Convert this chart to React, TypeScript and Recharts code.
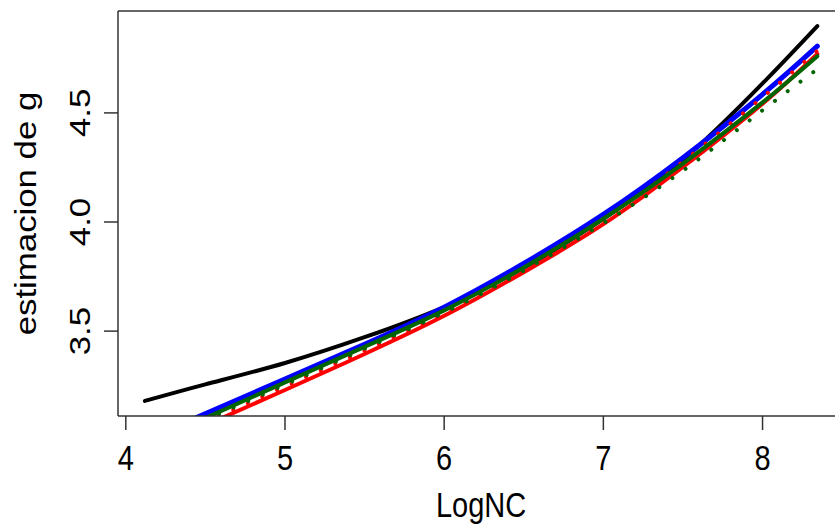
import { LineChart, Line, XAxis, YAxis, ReferenceLine } from "recharts";

// axis setup
const X_TICKS = [4, 5, 6, 7, 8];
const Y_TICKS = [3.5, 4.0, 4.5];
const X_DOMAIN: [number, number] = [3.951, 8.513];
const Y_DOMAIN: [number, number] = [3.111, 4.967];

// black curve has its own x samples
const blackX = [4.12, 4.5, 5, 5.5, 6, 6.5, 7, 7.5, 8, 8.344];
const blackY = [3.18, 3.256, 3.354, 3.472, 3.61, 3.79, 4.015, 4.285, 4.635, 4.898];

// the coloured curves share these x samples
const curveX = [4.4, 5, 5.5, 6, 6.5, 7, 7.5, 8, 8.344];
const blueY = [3.09, 3.28, 3.44, 3.61, 3.81, 4.035, 4.295, 4.585, 4.806];
const redY = [3.036, 3.23, 3.395, 3.57, 3.77, 3.99, 4.252, 4.542, 4.77];
const redDotY = [3.047, 3.247, 3.41, 3.583, 3.785, 4.01, 4.277, 4.572, 4.785];
const greenY = [3.069, 3.265, 3.428, 3.595, 3.792, 4.015, 4.268, 4.548, 4.76];
const greenDotY = [3.062, 3.255, 3.42, 3.585, 3.777, 3.994, 4.235, 4.512, 4.7];

const toPoints = (xs: number[], ys: number[]) => xs.map((x, i) => ({ x, y: ys[i] }));

const SERIES = [
  { name: "black", data: toPoints(blackX, blackY), color: "#000000", width: 4, dash: undefined },
  { name: "blue", data: toPoints(curveX, blueY), color: "#0000ff", width: 5, dash: undefined },
  { name: "red", data: toPoints(curveX, redY), color: "#ff0000", width: 4, dash: undefined },
  { name: "redDot", data: toPoints(curveX, redDotY), color: "#ff0000", width: 4, dash: "0.01 16" },
  { name: "green", data: toPoints(curveX, greenY), color: "#006400", width: 4, dash: undefined },
  { name: "greenDot", data: toPoints(curveX, greenDotY), color: "#006400", width: 4, dash: "0.01 16" },
];

const FONT = "'Liberation Sans', Arial, Helvetica, sans-serif";
const FONT_SIZE = 29;
const STRETCH = 1.2;
const AXIS_COLOR = "#333333";

function XTick(props: any) {
  const { x, y, payload } = props;
  return (
    <text
      transform={`translate(${x},${y + 38}) scale(1,${STRETCH})`}
      textAnchor="middle"
      fontSize={FONT_SIZE}
      fontFamily={FONT}
      fill="#000"
    >
      {payload.value}
    </text>
  );
}

function YTick(props: any) {
  const { x, y, payload } = props;
  return (
    <text
      transform={`translate(${x - 12.5},${y}) scale(1,${STRETCH}) rotate(-90)`}
      textAnchor="middle"
      fontSize={FONT_SIZE}
      fontFamily={FONT}
      fill="#000"
    >
      {Number(payload.value).toFixed(1)}
    </text>
  );
}

function XLabel(props: any) {
  const vb = props.viewBox;
  return (
    <text
      transform={`translate(${vb.x + vb.width / 2},${vb.y + 101}) scale(1,${STRETCH})`}
      textAnchor="middle"
      fontSize={FONT_SIZE}
      fontFamily={FONT}
      fill="#000"
    >
      LogNC
    </text>
  );
}

function YLabel(props: any) {
  const vb = props.viewBox;
  return (
    <text
      transform={`translate(${vb.x + 36},${vb.y + vb.height / 2}) scale(1,${STRETCH}) rotate(-90)`}
      textAnchor="middle"
      fontSize={FONT_SIZE}
      fontFamily={FONT}
      fill="#000"
    >
      estimacion de g
    </text>
  );
}

export default function App() {
  return (
    <div
      style={{
        position: "absolute",
        left: 0,
        top: 0,
        width: 835,
        height: 526,
        overflow: "hidden",
        background: "#fff",
      }}
    >
      <LineChart width={870} height={526} margin={{ top: 11, right: 25.8, left: 0, bottom: 0 }}>
        <XAxis
          type="number"
          dataKey="x"
          domain={X_DOMAIN}
          ticks={X_TICKS}
          allowDataOverflow
          height={110}
          tickSize={14}
          axisLine={{ stroke: AXIS_COLOR, strokeWidth: 1.5 }}
          tickLine={{ stroke: AXIS_COLOR, strokeWidth: 1.5 }}
          tick={<XTick />}
          label={(p: any) => <XLabel {...p} />}
        />
        <YAxis
          type="number"
          domain={Y_DOMAIN}
          ticks={Y_TICKS}
          allowDataOverflow
          width={118}
          tickSize={14}
          axisLine={{ stroke: AXIS_COLOR, strokeWidth: 1.5 }}
          tickLine={{ stroke: AXIS_COLOR, strokeWidth: 1.5 }}
          tick={<YTick />}
          label={(p: any) => <YLabel {...p} />}
        />
        <ReferenceLine y={Y_DOMAIN[1]} stroke={AXIS_COLOR} strokeWidth={1.5} ifOverflow="visible" />
        <ReferenceLine x={X_DOMAIN[1]} stroke={AXIS_COLOR} strokeWidth={1.5} ifOverflow="visible" />
        {SERIES.map((s) => (
          <Line
            key={s.name}
            data={s.data}
            dataKey="y"
            type="natural"
            stroke={s.color}
            strokeWidth={s.width}
            strokeDasharray={s.dash}
            strokeLinecap="round"
            dot={false}
            activeDot={false}
            isAnimationActive={false}
          />
        ))}
      </LineChart>
    </div>
  );
}
